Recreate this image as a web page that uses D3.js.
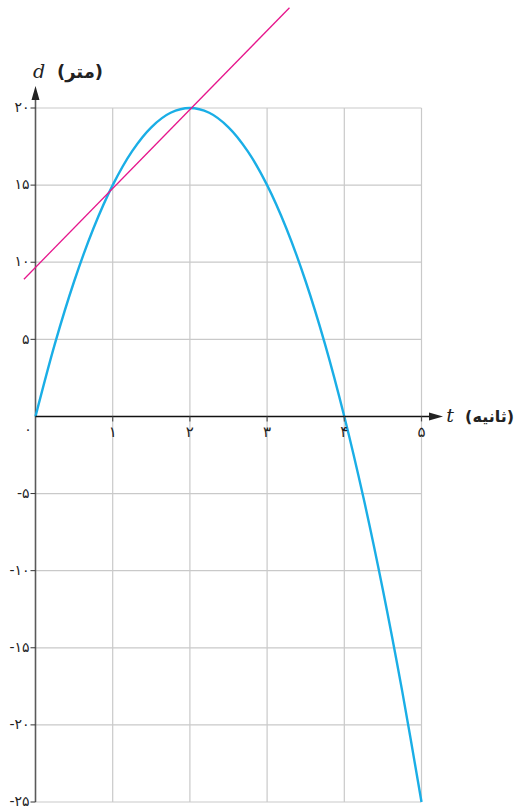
<!DOCTYPE html>
<html>
<head>
<meta charset="utf-8">
<script src="https://cdn.jsdelivr.net/npm/d3@7"></script>
<style>
  html, body { margin: 0; padding: 0; background: #fff; }
  svg { display: block; }
</style>
</head>
<body>
<svg id="chart" width="517" height="809"></svg>
<script>
// Time (seconds) and distance (metres) of the projectile
const timeValues = [0, 0.25, 0.5, 0.75, 1, 1.25, 1.5, 1.75, 2, 2.25, 2.5, 2.75, 3, 3.25, 3.5, 3.75, 4, 4.25, 4.5, 4.75, 5];
const distanceValues = [0, 4.69, 8.75, 12.19, 15, 17.19, 18.75, 19.69, 20, 19.69, 18.75, 17.19, 15, 12.19, 8.75, 4.69, 0, -5.31, -11.25, -17.81, -25];

// Straight line through (1, 15) and (2, 20)
const secantT = [-0.15, 3.29];
const secantD = [8.9, 26.5];

// Tick labels
const xTicks = [1, 2, 3, 4, 5];
const xTickLabels = ["۱", "۲", "۳", "۴", "۵"];
const yTicks = [20, 15, 10, 5, -5, -10, -15, -20, -25];
const yTickLabels = ["۲۰", "۱۵", "۱۰", "۵", "-۵", "-۱۰", "-۱۵", "-۲۰", "-۲۵"];
const originLabel = "۰";
const xTitle = "(ثانیه)";
const yTitle = "(متر)";

const svg = d3.select("#chart");

const x = d3.scaleLinear().domain([0, 5]).range([35.5, 421.5]);
const y = d3.scaleLinear().domain([-25, 20]).range([802, 108]);

const gridColor = "#c9c9c9";
const digitFont = "'DejaVu Sans', sans-serif";

// Grid
const grid = svg.append("g");
grid.selectAll("line.h")
  .data(yTicks)
  .join("line")
  .attr("x1", x(0)).attr("x2", x(5))
  .attr("y1", d => y(d)).attr("y2", d => y(d))
  .attr("stroke", gridColor).attr("stroke-width", 1.2);
grid.selectAll("line.v")
  .data(xTicks)
  .join("line")
  .attr("x1", d => x(d)).attr("x2", d => x(d))
  .attr("y1", y(20)).attr("y2", y(-25))
  .attr("stroke", gridColor).attr("stroke-width", 1.2);

// Y axis with arrow
svg.append("line")
  .attr("x1", x(0)).attr("x2", x(0))
  .attr("y1", y(-25)).attr("y2", 96)
  .attr("stroke", "#5a5a5a").attr("stroke-width", 1.6);
svg.append("path")
  .attr("d", `M${x(0)},86 L${x(0) - 4},100 L${x(0) + 4},100 Z`)
  .attr("fill", "#222");

// Y ticks
svg.selectAll("line.yt")
  .data(yTicks)
  .join("line")
  .attr("x1", x(0) - 5).attr("x2", x(0))
  .attr("y1", d => y(d)).attr("y2", d => y(d))
  .attr("stroke", "#333").attr("stroke-width", 1);

svg.selectAll("text.yl")
  .data(yTicks)
  .join("text")
  .attr("x", x(0) - 6)
  .attr("y", d => y(d))
  .attr("dy", "0.3em")
  .attr("text-anchor", "end")
  .attr("font-family", digitFont)
  .attr("font-size", 14)
  .attr("fill", "#222")
  .text((d, i) => yTickLabels[i]);

// Curve
const line = d3.line()
  .x(d => x(d[0]))
  .y(d => y(d[1]))
  .curve(d3.curveCatmullRom);

svg.append("path")
  .datum(timeValues.map((t, i) => [t, distanceValues[i]]))
  .attr("d", line)
  .attr("fill", "none")
  .attr("stroke", "#1aaee6")
  .attr("stroke-width", 2.4);

// Straight line
svg.append("path")
  .datum(secantT.map((t, i) => [t, secantD[i]]))
  .attr("d", d3.line().x(d => x(d[0])).y(d => y(d[1])))
  .attr("fill", "none")
  .attr("stroke", "#e6168c")
  .attr("stroke-width", 1.3);

// X axis with arrow
svg.append("line")
  .attr("x1", x(0)).attr("x2", 432)
  .attr("y1", y(0)).attr("y2", y(0))
  .attr("stroke", "#111").attr("stroke-width", 1.6);
svg.append("path")
  .attr("d", `M443,${y(0)} L429,${y(0) - 4} L429,${y(0) + 4} Z`)
  .attr("fill", "#222");

// X ticks
svg.selectAll("line.xt")
  .data(xTicks)
  .join("line")
  .attr("x1", d => x(d)).attr("x2", d => x(d))
  .attr("y1", y(0)).attr("y2", y(0) + 5)
  .attr("stroke", "#555").attr("stroke-width", 1.2);

svg.selectAll("text.xl")
  .data(xTicks)
  .join("text")
  .attr("x", d => x(d))
  .attr("y", y(0) + 15)
  .attr("dy", "0.35em")
  .attr("text-anchor", "middle")
  .attr("font-family", digitFont)
  .attr("font-size", 15)
  .attr("fill", "#222")
  .text((d, i) => xTickLabels[i]);

svg.append("text")
  .attr("x", 28).attr("y", y(0) + 13)
  .attr("dy", "0.35em")
  .attr("text-anchor", "middle")
  .attr("font-family", digitFont)
  .attr("font-size", 14)
  .attr("fill", "#222")
  .text(originLabel);

// Axis titles
svg.append("text")
  .attr("x", 39).attr("y", 78)
  .attr("text-anchor", "middle")
  .attr("font-family", "'DejaVu Serif', serif")
  .attr("font-style", "italic")
  .attr("font-size", 19)
  .attr("fill", "#222")
  .text("d");
svg.append("text")
  .attr("x", 80).attr("y", 78)
  .attr("text-anchor", "middle")
  .attr("font-family", "'DejaVu Sans', sans-serif")
  .attr("font-weight", "bold")
  .attr("font-size", 18)
  .attr("fill", "#222")
  .text(yTitle);

svg.append("text")
  .attr("x", 450).attr("y", y(0) + 6)
  .attr("text-anchor", "middle")
  .attr("font-family", "'DejaVu Serif', serif")
  .attr("font-style", "italic")
  .attr("font-size", 19)
  .attr("fill", "#222")
  .text("t");
svg.append("text")
  .attr("x", 514).attr("y", y(0) + 6)
  .attr("text-anchor", "end")
  .attr("font-family", "'DejaVu Sans', sans-serif")
  .attr("font-weight", "bold")
  .attr("font-size", 16)
  .attr("fill", "#222")
  .text(xTitle);
</script>
</body>
</html>
